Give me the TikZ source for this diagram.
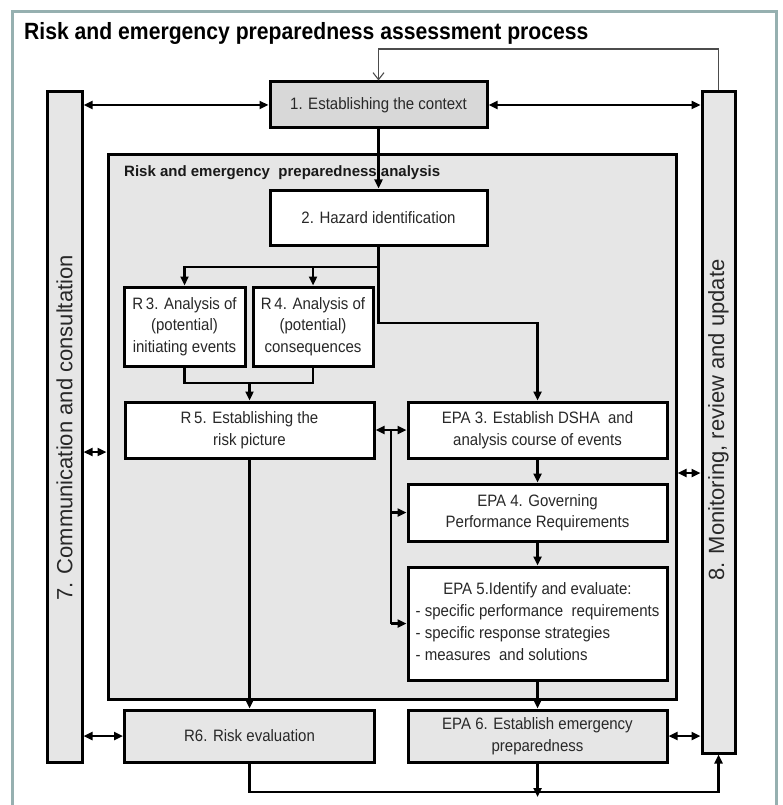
\documentclass[tikz,border=0pt]{standalone}
\usepackage{fontspec}
\setmainfont{Liberation Sans}
\newfontfamily\boxfont[FakeStretch=0.91]{Liberation Sans}
\newfontfamily\titlefont[FakeStretch=0.9]{Liberation Sans}
\usetikzlibrary{arrows.meta}
\definecolor{boxgrey}{RGB}{230,230,230}
\definecolor{framecol}{RGB}{150,176,176}
\definecolor{txtcol}{RGB}{40,40,40}
\tikzset{
  box/.style={draw=black, line width=3pt, fill=white, inner sep=0pt, align=center,
    font=\boxfont\fontsize{16.5}{21.5}\selectfont, text=txtcol},
  greybox/.style={box, fill=boxgrey},
  bar/.style={draw=black, line width=3pt, fill=boxgrey, inner sep=0pt},
  bartext/.style={rotate=90, font=\fontsize{22}{22}\selectfont, text=txtcol, inner sep=0pt},
  wire/.style={line width=2.3pt},
  conn/.style={line width=2.3pt, -{Triangle[length=9pt,width=8pt]}},
  dbl/.style={line width=2.3pt, {Triangle[length=9pt,width=8pt]}-{Triangle[length=9pt,width=8pt]}},
  fback/.style={line width=1.1pt, draw=black!70, -{Straight Barb[length=7pt,width=11pt]}}
}
\begin{document}
\begin{tikzpicture}[x=1pt,y=-1pt]
\useasboundingbox (0,0) rectangle (782,805);
\fill[white] (0,0) rectangle (782,805);
\draw[framecol, line width=3pt] (12,12) rectangle (776,830);

\node[anchor=base west, inner sep=0pt, font=\titlefont\fontsize{23.5}{26}\selectfont\bfseries] (title) at (24,40)
  {Risk and emergency preparedness assessment process};

% side bars
\node[bar, minimum width=35pt, minimum height=670pt] (L) at (64.5,427) {};
\node[bar, minimum width=33pt, minimum height=661pt] (R) at (718.5,422.5) {};
\node[bartext] (Ltext) at (64.5,428) {7. Communication and consultation};
\node[bartext] (Rtext) at (718.5,420) {8. Monitoring, review and update};

% analysis area
\node[bar, minimum width=568pt, minimum height=544pt] (A) at (392,427) {};
\node[anchor=base west, inner sep=0pt, font=\fontsize{15}{17}\selectfont\bfseries, text=black!90] (Alabel) at (124,176)
  {Risk and emergency \ preparedness analysis};

% boxes
\node[greybox, fill=boxgrey!94!black, minimum width=217pt, minimum height=46pt] (B1) at (378.5,105) {1. Establishing the context};
\node[box, minimum width=217pt, minimum height=55pt] (B2) at (378.5,217.5) {2. Hazard identification};
\node[box, minimum width=121pt, minimum height=79pt] (R3) at (184.5,326.5) {R\,3. Analysis of\\(potential)\\initiating events};
\node[box, minimum width=120pt, minimum height=79pt] (R4) at (313,326.5) {R\,4. Analysis of\\(potential)\\consequences};
\node[box, minimum width=249pt, minimum height=56pt] (R5) at (249.5,430) {R\,5. Establishing the\\risk picture};
\node[box, minimum width=259pt, minimum height=56pt] (E3) at (537.5,430) {EPA 3. Establish DSHA \ and\\analysis course of events};
\node[box, minimum width=259pt, minimum height=57pt] (E4) at (537.5,512.5) {EPA 4. Governing\\Performance Requirements};
\node[box, minimum width=259pt, minimum height=113pt, font=\boxfont\fontsize{16.5}{22}\selectfont] (E5) at (537.5,623.5)
  {\begin{tabular}{@{}l@{}}\multicolumn{1}{@{}c@{}}{EPA 5.Identify and evaluate:}\\- specific performance \ requirements\\- specific response strategies\\- measures \ and solutions\end{tabular}};
\node[greybox, minimum width=250pt, minimum height=52pt] (R6) at (249.5,736) {R6. Risk evaluation};
\node[greybox, minimum width=259pt, minimum height=52pt] (E6) at (537.5,736) {EPA 6. Establish emergency\\preparedness};

% junction coordinates
\coordinate (j1) at (378.5,267);
\coordinate (j2) at (378.5,323);
\coordinate (j3) at (249.5,383);
\coordinate (v1) at (391,430);
\coordinate (b1) at (249.5,792);
\coordinate (fb) at (0,49);

% connectors
\draw[fback] (R.north) -- (R.north |- fb) -| (B1.north);
\draw[dbl] (B1.west) -- (B1.west -| L.east);
\draw[dbl] (B1.east) -- (B1.east -| R.west);
\draw[conn] (B1) -- (B2);
\draw[wire] (B2.south) -- (j1);
\draw[conn] (j1) -| (R3.north);
\draw[conn] (R4.north |- j1) -- (R4.north);
\draw[conn] (j1) -- (j2) -| (E3.north);
\draw[wire] (R3.south) |- (R4.south |- j3) -- (R4.south);
\draw[conn] (j3) -- (R5.north);
\draw[dbl] (R5) -- (E3);
\draw[wire] (v1) -- (v1 |- E5.west);
\draw[conn] (v1 |- E4.west) -- (E4.west);
\draw[conn] (v1 |- E5.west) -- (E5.west);
\draw[conn] (E3) -- (E4);
\draw[conn] (E4) -- (E5);
\draw[conn] (E5) -- (E6);
\draw[conn] (R5) -- (R6);
\draw[dbl] (L.east |- 0,452) -- (A.west |- 0,452);
\draw[dbl] (A.east |- 0,473) -- (R.west |- 0,473);
\draw[dbl] (L.east |- R6.west) -- (R6.west);
\draw[dbl] (E6.east) -- (E6.east -| R.west);
\draw[conn] (R6.south) |- (R.south |- b1) -- (R.south);
\draw[conn] (E6.south) -- (E6.south |- 0,797);
\end{tikzpicture}
\end{document}
